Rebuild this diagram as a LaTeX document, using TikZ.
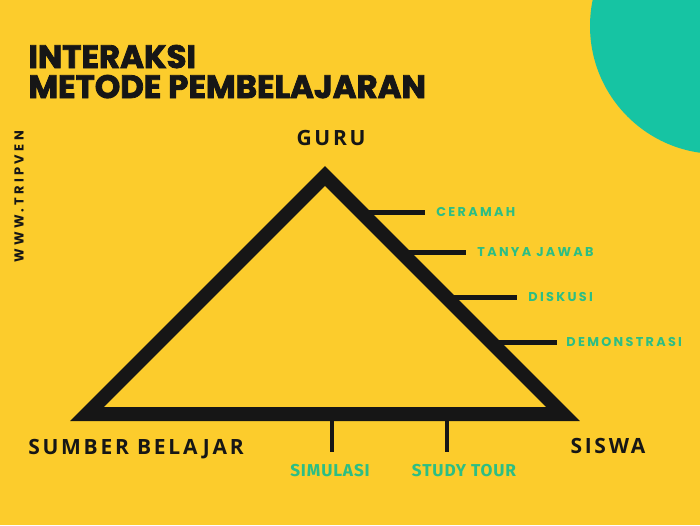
\documentclass[tikz,border=0pt]{standalone}
\usepackage{fontspec}
\setmainfont{Poppins}
\newfontfamily\titlefont{Poppins}[BoldFeatures={FakeBold=2.5}]
\newfontfamily\cornerfont{Open Sans}[LetterSpace=13]
\newfontfamily\methodfont{Poppins}[LetterSpace=18]
\newfontfamily\lowfont{Fira Sans}[LetterSpace=5]
\newfontfamily\webfont{Poppins}[LetterSpace=25]
\usetikzlibrary{positioning}
\definecolor{bgyellow}{RGB}{252,204,44}
\definecolor{circleteal}{RGB}{22,196,163}
\definecolor{methodgreen}{RGB}{44,190,132}
\definecolor{inkblack}{RGB}{22,22,22}
\begin{document}
\begin{tikzpicture}[x=0.5pt,y=-0.5pt]
\tikzstyle{cornerlabel} = [font=\cornerfont\bfseries\fontsize{10.5}{12}\selectfont, text=inkblack, inner sep=0pt]
\tikzstyle{methodlabel} = [font=\methodfont\bfseries\fontsize{6.4}{8}\selectfont, text=methodgreen, inner sep=0pt, text depth=0pt]
\tikzstyle{lowlabel} = [font=\lowfont\bfseries\fontsize{8.6}{10}\selectfont, text=methodgreen, inner sep=0pt]
\tikzstyle{stub} = [draw=inkblack, line width=2.5pt]
% background
\fill[bgyellow] (0,0) rectangle (700,525);
\useasboundingbox (0,0) rectangle (700,525);
\clip (0,0) rectangle (700,525);
\fill[circleteal] (718,26) circle (128);
% title
\node (title1) [anchor=base west, inner sep=0pt, font=\titlefont\bfseries\fontsize{16.2}{18}\selectfont, text=inkblack] at (28,68) {INTERAKSI};
\node (title2) [anchor=base west, inner sep=0pt, font=\titlefont\bfseries\fontsize{16.2}{18}\selectfont, text=inkblack] at (28,98) {METODE PEMBELAJARAN};
\node (web) [rotate=90, inner sep=0pt, font=\webfont\bfseries\fontsize{6.5}{8}\selectfont, text=inkblack] at (19,197) {WWW.TRIPVEN};
% triangle
\coordinate (top) at (325,176);
\coordinate (left) at (87,414);
\coordinate (right) at (563,414);
\draw[inkblack, line width=7pt, miter limit=10] (top) -- (left) -- (right) -- cycle;
\node (guru) [cornerlabel] at (331,138) {GURU};
\node (sumber) [cornerlabel] at (136,449) {SUMBER BELAJAR};
\node (siswa) [cornerlabel] at (608,446) {SISWA};
% methods on the right side
\coordinate (s1) at (361,212);
\coordinate (e1) at (425,212);
\coordinate (s2) at (401,252);
\coordinate (e2) at (466,252);
\coordinate (s3) at (446,297);
\coordinate (e3) at (517,297);
\coordinate (s4) at (491,342);
\coordinate (e4) at (557,342);
\node (ceramah) [methodlabel, right=5.5pt of e1] {CERAMAH};
\node (tanya) [methodlabel, right=5.5pt of e2] {TANYA JAWAB};
\node (diskusi) [methodlabel, right=5.5pt of e3] {DISKUSI};
\node (demo) [methodlabel, right=4.5pt of e4] {DEMONSTRASI};
\draw[stub] (s1) -- (e1);
\draw[stub] (s2) -- (e2);
\draw[stub] (s3) -- (e3);
\draw[stub] (s4) -- (e4);
% methods below the base
\coordinate (b1) at (332,414);
\coordinate (f1) at (332,452);
\coordinate (b2) at (447,414);
\coordinate (f2) at (447,452);
\draw[stub, line width=2pt] (b1) -- (f1);
\draw[stub, line width=2pt] (b2) -- (f2);
\node (simulasi) [lowlabel] at (330,471) {SIMULASI};
\node (study) [lowlabel] at (464,471) {STUDY TOUR};
\end{tikzpicture}
\end{document}
